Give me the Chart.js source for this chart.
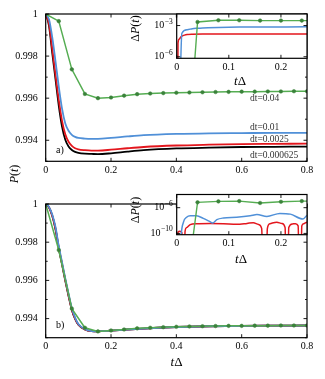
<!DOCTYPE html>
<html>
<head>
<meta charset="utf-8">
<script src="https://cdn.jsdelivr.net/npm/chart.js@4.4.1/dist/chart.umd.min.js"></script>
<style>
  html, body { margin: 0; padding: 0; background: #fff; }
  #wrap { position: relative; width: 325px; height: 379px; overflow: hidden; }
  canvas { position: absolute; }
</style>
</head>
<body>
<div id="wrap">
  <canvas id="mainA" width="325" height="190" style="left:0px;top:0px"></canvas>
  <canvas id="insetA" width="205" height="100" style="left:120px;top:0px"></canvas>
  <canvas id="mainB" width="325" height="189" style="left:0px;top:190px"></canvas>
  <canvas id="insetB" width="205" height="80" style="left:120px;top:190px"></canvas>
</div>
<script>
const FONT = '"Liberation Serif", "DejaVu Serif", serif';
const ZERO = 1e-30; // stands for dP = 0 on a log axis

// ---- panel a) P(t) ----
const tFine = [0, 0.01, 0.02, 0.03, 0.04, 0.05, 0.06, 0.07, 0.08, 0.09, 0.10, 0.12, 0.14, 0.16, 0.20, 0.25, 0.30, 0.40, 0.50, 0.60, 0.70, 0.80];
const pA_000625 = [1.0, 0.99945, 0.99815, 0.99690, 0.99565, 0.99465, 0.99402, 0.99370, 0.99354, 0.99345, 0.99340, 0.99336, 0.99335, 0.99334, 0.99338, 0.99346, 0.99353, 0.99361, 0.99365, 0.99368, 0.99369, 0.99370];
const pA_0025 = [1.0, 0.99955, 0.99835, 0.99712, 0.99592, 0.99492, 0.99428, 0.99393, 0.99373, 0.99362, 0.99357, 0.99353, 0.99351, 0.99351, 0.99355, 0.99362, 0.99368, 0.99375, 0.99379, 0.99382, 0.99383, 0.99384];
const pA_001 = [1.0, 0.99975, 0.99890, 0.99775, 0.99655, 0.99550, 0.99480, 0.99445, 0.99426, 0.99416, 0.99411, 0.99408, 0.99407, 0.99407, 0.99411, 0.99418, 0.99424, 0.99430, 0.99433, 0.99434, 0.99435, 0.99435];
const tCoarse = [0, 0.04, 0.08, 0.12, 0.16, 0.20, 0.24, 0.28, 0.32, 0.36, 0.40, 0.44, 0.48, 0.52, 0.56, 0.60, 0.64, 0.68, 0.72, 0.76, 0.80];
const pA_004 = [1.0, 0.99966, 0.99737, 0.99620, 0.99600, 0.99603, 0.99612, 0.99619, 0.99622, 0.99624, 0.99626, 0.99627, 0.99628, 0.99629, 0.99630, 0.99631, 0.99631, 0.99632, 0.99632, 0.99633, 0.99633];

// ---- panel b) P(t) ----
const pB_000625 = [1.0, 0.99982, 0.99938, 0.99868, 0.99768, 0.99684, 0.99598, 0.99518, 0.99445, 0.99398, 0.99368, 0.99343, 0.99334, 0.99333, 0.99337, 0.99343, 0.99348, 0.99356, 0.99360, 0.99362, 0.99363, 0.99364];
const pB_0025 = [1.0, 0.99983, 0.99940, 0.99872, 0.99772, 0.99688, 0.99602, 0.99522, 0.99448, 0.99400, 0.99369, 0.99343, 0.99334, 0.99333, 0.99337, 0.99343, 0.99348, 0.99356, 0.99360, 0.99362, 0.99363, 0.99364];
const pB_001 = [1.0, 0.99985, 0.99945, 0.99880, 0.99780, 0.99695, 0.99610, 0.99530, 0.99455, 0.99405, 0.99372, 0.99344, 0.99335, 0.99333, 0.99337, 0.99343, 0.99348, 0.99356, 0.99360, 0.99362, 0.99363, 0.99364];
const pB_004 = [1.0, 0.99759, 0.99452, 0.99352, 0.99333, 0.99338, 0.99343, 0.99349, 0.99352, 0.99355, 0.99357, 0.99359, 0.99360, 0.99361, 0.99362, 0.99362, 0.99363, 0.99363, 0.99364, 0.99364, 0.99364];

// ---- inset a) dP(t) ----
const tInA_0025 = [0, 0.0025, 0.005, 0.0075, 0.01, 0.015, 0.02, 0.03, 0.05, 0.10, 0.15, 0.20, 0.25];
const dA_0025 = [ZERO, 2.0e-5, 5.0e-5, 7.5e-5, 9.5e-5, 1.2e-4, 1.35e-4, 1.45e-4, 1.5e-4, 1.5e-4, 1.5e-4, 1.5e-4, 1.5e-4];
const tInA_001 = [0, 0.01, 0.02, 0.03, 0.04, 0.05, 0.06, 0.08, 0.10, 0.12, 0.16, 0.20, 0.25];
const dA_001 = [ZERO, 1.8e-4, 4.0e-4, 5.0e-4, 5.5e-4, 5.9e-4, 6.2e-4, 6.6e-4, 6.9e-4, 7.1e-4, 7.3e-4, 7.4e-4, 7.5e-4];
const tInA_004 = [0, 0.04, 0.08, 0.12, 0.16, 0.20, 0.24, 0.28];
const dA_004 = [ZERO, 2.2e-3, 3.2e-3, 3.2e-3, 3.0e-3, 3.0e-3, 3.0e-3, 3.0e-3];

// ---- inset b) dP(t) ----
const tInB_0025 = [0, 0.0025, 0.006, 0.010, 0.013, 0.016, 0.019, 0.026, 0.038, 0.064, 0.090, 0.115, 0.135, 0.147, 0.157, 0.163, 0.1686, 0.174, 0.179, 0.192, 0.202, 0.208, 0.2115, 0.215, 0.222, 0.228, 0.233, 0.237, 0.240, 0.2435, 0.250, 0.260];
const dB_0025 = [ZERO, 1.5e-10, 2.2e-10, 1.2e-10, ZERO, 2.0e-10, 8.0e-10, 2.3e-9, 3.2e-9, 3.5e-9, 3.2e-9, 2.6e-9, 3.6e-9, 4.6e-9, 2.5e-9, 6.0e-10, ZERO, 6.0e-10, 3.2e-9, 5.6e-9, 3.5e-9, 8.0e-10, ZERO, 8.0e-10, 3.0e-9, 3.2e-9, 1.5e-9, ZERO, 1.5e-9, 3.2e-9, 5.6e-9, 6.0e-9];
const tInB_001 = [0, 0.008, 0.013, 0.019, 0.026, 0.038, 0.051, 0.062, 0.069, 0.077, 0.090, 0.115, 0.141, 0.154, 0.173, 0.198, 0.218, 0.242, 0.250, 0.260];
const dB_001 = [ZERO, 1e-11, 5.8e-9, 3.2e-8, 5.4e-8, 5.4e-8, 2.2e-8, 8.0e-9, 4.1e-9, 1.4e-8, 2.5e-8, 3.2e-8, 5.4e-8, 8.5e-8, 4.4e-8, 1.3e-7, 1.0e-7, 1.7e-8, 6.3e-8, 1.1e-7];
const tInB_004 = [0, 0.04, 0.08, 0.12, 0.16, 0.20, 0.24, 0.28];
const dB_004 = [ZERO, 6.8e-6, 9.5e-6, 1.05e-5, 5.4e-6, 8.3e-6, 1.05e-5, 1.0e-5];

// ---- ticks and labels ----
const mainXTicks = [0, 0.2, 0.4, 0.6, 0.8];
const mainXLabels = ['0', '0.2', '0.4', '0.6', '0.8'];
const mainYTicks = [0.993, 0.994, 0.995, 0.996, 0.997, 0.998, 0.999, 1.0];
const mainYLabels = ['', '0.994', '', '0.996', '', '0.998', '', '1'];
const insetXTicks = [0, 0.1, 0.2];
const insetXLabels = ['0', '0.1', '0.2'];
const insetAExp = [-6, -3];
const insetBExp = [-10, -6];
const curveNames = ['dt=0.04', 'dt=0.01', 'dt=0.0025', 'dt=0.000625'];

const GREEN = '#55ad52', GREEN_DARK = '#3a823a', BLUE = '#5090d8', RED = '#e3161d', BLACK = '#000';

function pts(xs, ys) { return xs.map((x, i) => ({ x: x, y: ys[i] })); }

function smooth(data, color, w) {
  return { data: data, borderColor: color, borderWidth: w, pointRadius: 0, cubicInterpolationMode: 'monotone' };
}
function marked(data, w) {
  return { data: data, borderColor: GREEN, borderWidth: w, tension: 0, pointRadius: 1.8,
           pointBackgroundColor: GREEN_DARK, pointBorderColor: GREEN_DARK, pointBorderWidth: 0.5 };
}

function xAxis(min, max, values, labels, height) {
  return {
    type: 'linear', min: min, max: max,
    afterBuildTicks: s => { s.ticks = values.map(v => ({ value: v })); },
    afterFit: s => { s.height = height; },
    grid: { display: false, drawTicks: false }, border: { display: false },
    ticks: { autoSkip: false, maxRotation: 0, padding: 3, color: '#000',
             font: { family: FONT, size: 10 }, callback: (v, i) => labels[i] }
  };
}
function yLinear(values, labels, width) {
  return {
    type: 'linear', min: 0.993, max: 1.0,
    afterBuildTicks: s => { s.ticks = values.map(v => ({ value: v })); },
    afterFit: s => { s.width = width; },
    grid: { display: false, drawTicks: false }, border: { display: false },
    ticks: { autoSkip: false, padding: 8, color: '#000',
             font: { family: FONT, size: 10 }, callback: (v, i) => labels[i] }
  };
}
function yLog(min, max, exps, width) {
  return {
    type: 'logarithmic', min: min, max: max,
    afterBuildTicks: s => { s.ticks = exps.map(e => ({ value: Math.pow(10, e), exp: e })); },
    afterFit: s => { s.width = width; },
    grid: { display: false, drawTicks: false }, border: { display: false },
    ticks: { display: false }
  };
}

function drawRich(ctx, parts, x, y, size, align, rot, color) {
  ctx.save();
  ctx.translate(x, y);
  if (rot) ctx.rotate(rot);
  ctx.fillStyle = color || '#000';
  ctx.textAlign = 'left';
  ctx.textBaseline = 'middle';
  let w = 0;
  parts.forEach(p => { ctx.font = (p[1] ? 'italic ' : '') + size + 'px ' + FONT; w += ctx.measureText(p[0]).width; });
  let cx = align === 'center' ? -w / 2 : align === 'right' ? -w : 0;
  parts.forEach(p => {
    ctx.font = (p[1] ? 'italic ' : '') + size + 'px ' + FONT;
    ctx.fillText(p[0], cx, 0);
    cx += ctx.measureText(p[0]).width;
  });
  ctx.restore();
}

function drawPow(ctx, exp, xRight, y) {
  const base = '10', sup = '\u2212' + Math.abs(exp);
  ctx.font = '10px ' + FONT; const wb = ctx.measureText(base).width;
  ctx.font = '7.5px ' + FONT; const ws = ctx.measureText(sup).width;
  const x0 = xRight - wb - ws - 0.5;
  ctx.fillStyle = '#000'; ctx.textAlign = 'left'; ctx.textBaseline = 'middle';
  ctx.font = '10px ' + FONT; ctx.fillText(base, x0, y);
  ctx.font = '7.5px ' + FONT; ctx.fillText(sup, x0 + wb + 0.5, y - 4);
}

// frame, inward ticks, log labels and free text
const deco = {
  id: 'deco',
  beforeDraw(chart, args, o) {
    if (!o.fill) return;
    const a = chart.chartArea, ctx = chart.ctx;
    ctx.save();
    ctx.fillStyle = '#fff';
    ctx.fillRect(a.left, a.top, a.right - a.left, a.bottom - a.top);
    ctx.restore();
  },
  afterDraw(chart, args, o) {
    const ctx = chart.ctx, a = chart.chartArea, xs = chart.scales.x, ys = chart.scales.y;
    ctx.save();
    ctx.strokeStyle = '#000';
    ctx.lineWidth = 0.9;
    ctx.beginPath();
    xs.ticks.forEach(t => {
      const px = xs.getPixelForValue(t.value), len = t.label === '' ? 2 : 3.5;
      ctx.moveTo(px, a.bottom); ctx.lineTo(px, a.bottom - len);
      ctx.moveTo(px, a.top); ctx.lineTo(px, a.top + len);
    });
    ys.ticks.forEach(t => {
      const py = ys.getPixelForValue(t.value), len = t.label === '' ? 2 : 3.5;
      ctx.moveTo(a.left, py); ctx.lineTo(a.left + len, py);
      ctx.moveTo(a.right, py); ctx.lineTo(a.right - len, py);
    });
    ctx.stroke();
    ctx.lineWidth = 1.2;
    ctx.strokeRect(a.left, a.top, a.right - a.left, a.bottom - a.top);
    if (o.logLabels) {
      ys.ticks.forEach(t => drawPow(ctx, t.exp, a.left - 4, ys.getPixelForValue(t.value)));
    }
    (o.texts || []).forEach(tx => drawRich(ctx, tx.parts, tx.x, tx.y, tx.size, tx.align, tx.rot, tx.color));
    ctx.restore();
  }
};

const P_T = [['P', 1], ['(', 0], ['t', 1], [')', 0]];
const DP_T = [['\u0394', 0], ['P', 1], ['(', 0], ['t', 1], [')', 0]];
const T_D = [['t', 1], ['\u0394', 0]];

function base(datasets, scales, layoutPad, decoOpts) {
  return {
    type: 'line',
    data: { datasets: datasets },
    plugins: [deco],
    options: {
      responsive: false, animation: false, devicePixelRatio: 1,
      layout: { padding: layoutPad },
      scales: scales,
      plugins: { legend: { display: false }, tooltip: { enabled: false }, deco: decoOpts }
    }
  };
}

// panel a)
const labelY = [98.3, 127.7, 139, 155];
new Chart(document.getElementById('mainA'), base(
  [
    marked(pts(tCoarse, pA_004), 1.5),
    smooth(pts(tFine, pA_001), BLUE, 1.8),
    smooth(pts(tFine, pA_0025), RED, 1.8),
    smooth(pts(tFine, pA_000625), BLACK, 1.8)
  ],
  { x: xAxis(0, 0.8, mainXTicks, mainXLabels, 28.7), y: yLinear(mainYTicks, mainYLabels, 45.7) },
  { top: 14, right: 18, left: 0, bottom: 0 },
  { texts: [
      { parts: P_T, x: 15, y: 174, size: 12, align: 'center', rot: -Math.PI / 2 },
      { parts: [['a)', 0]], x: 56, y: 150.7, size: 10, align: 'left' }
    ].concat(curveNames.map((n, i) => ({ parts: [[n, 0]], x: 250, y: labelY[i], size: 9.5, align: 'left', color: '#333' })))
  }
));

new Chart(document.getElementById('insetA'), base(
  [
    marked(pts(tInA_004, dA_004), 1.4),
    smooth(pts(tInA_001, dA_001), BLUE, 1.5),
    smooth(pts(tInA_0025, dA_0025), RED, 1.5)
  ],
  { x: xAxis(0, 0.25, insetXTicks, insetXLabels, 41.7), y: yLog(Math.pow(10, -6.15), Math.pow(10, -1.89), insetAExp, 56.7) },
  { top: 14, right: 18, left: 0, bottom: 0 },
  { fill: true, logLabels: true, texts: [
      { parts: T_D, x: 120, y: 82, size: 13, align: 'center' },
      { parts: DP_T, x: 16, y: 28.5, size: 12, align: 'center', rot: -Math.PI / 2 }
  ] }
));

// panel b)
new Chart(document.getElementById('mainB'), base(
  [
    marked(pts(tCoarse, pB_004), 1.5),
    smooth(pts(tFine, pB_001), BLUE, 1.8),
    smooth(pts(tFine, pB_0025), RED, 1.8),
    smooth(pts(tFine, pB_000625), BLACK, 1.8)
  ],
  { x: xAxis(0, 0.8, mainXTicks, mainXLabels, 41.3), y: yLinear(mainYTicks, mainYLabels, 45.7) },
  { top: 1.6, right: 18, left: 0, bottom: 0 },
  { texts: [
      { parts: T_D, x: 176.5, y: 173, size: 13, align: 'center' },
      { parts: [['b)', 0]], x: 56, y: 135.7, size: 10, align: 'left' }
  ] }
));

new Chart(document.getElementById('insetB'), base(
  [
    marked(pts(tInB_004, dB_004), 1.4),
    smooth(pts(tInB_001, dB_001), BLUE, 1.5),
    smooth(pts(tInB_0025, dB_0025), RED, 1.5)
  ],
  { x: xAxis(0, 0.25, insetXTicks, insetXLabels, 35.3), y: yLog(Math.pow(10, -10.2), Math.pow(10, -3.95), insetBExp, 56.7) },
  { top: 2, right: 18, left: 0, bottom: 0 },
  { fill: true, logLabels: true, texts: [
      { parts: T_D, x: 121, y: 70, size: 13, align: 'center' },
      { parts: DP_T, x: 16, y: 20, size: 12, align: 'center', rot: -Math.PI / 2 }
  ] }
));
</script>
</body>
</html>
